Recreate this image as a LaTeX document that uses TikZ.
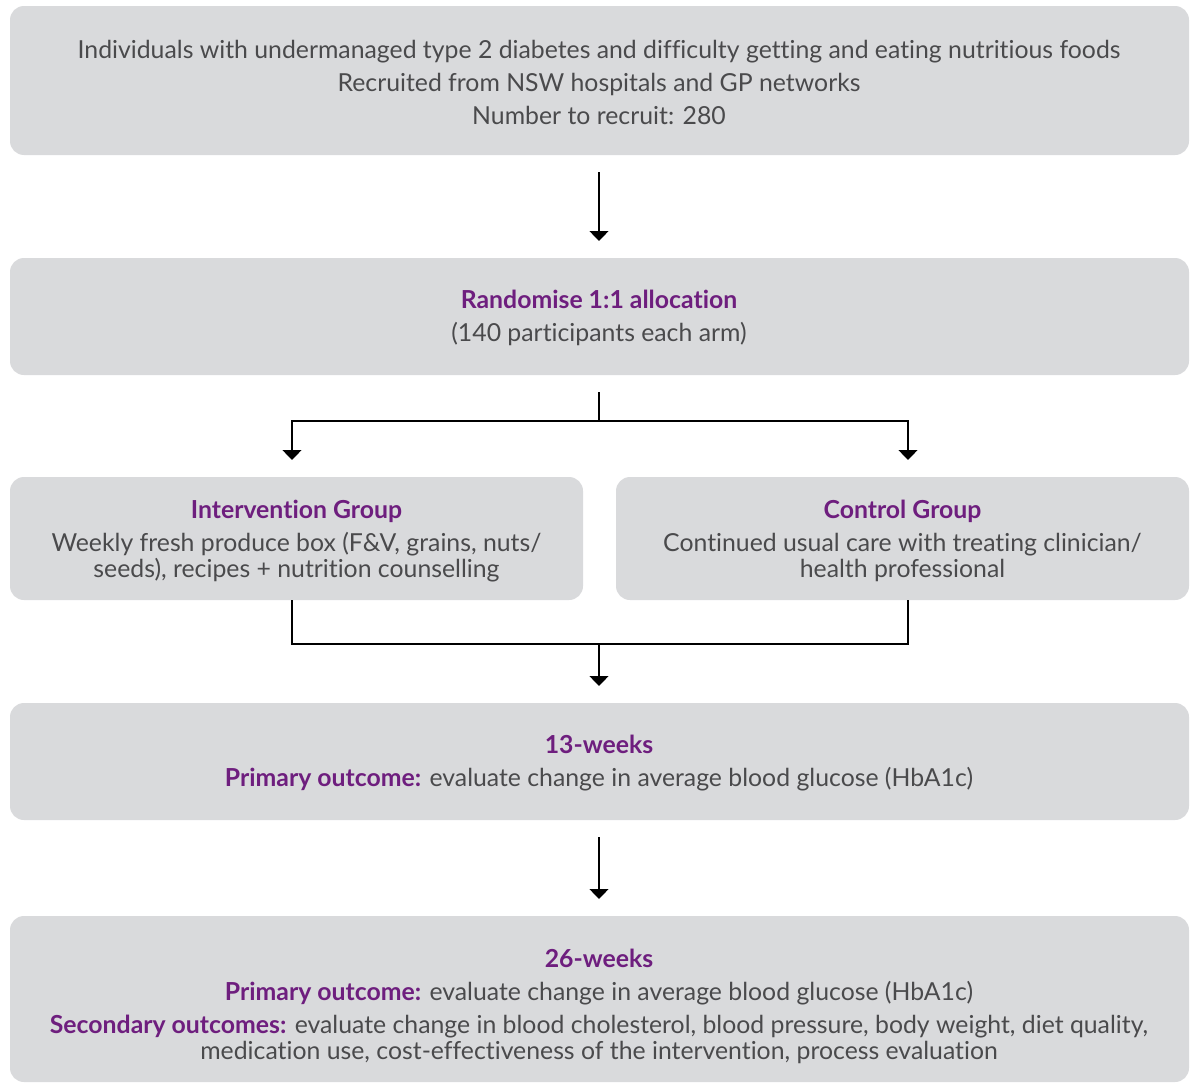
\documentclass[tikz,border=0pt]{standalone}
\usepackage{fontspec}
\setmainfont{Lato}[Ligatures=NoCommon]
\usetikzlibrary{arrows.meta}
\definecolor{boxgray}{RGB}{217,218,220}
\definecolor{purp}{RGB}{110,30,126}
\definecolor{txt}{RGB}{74,74,76}
\tikzset{
  box/.style={fill=boxgray, draw=none, rounded corners=14pt, inner sep=0pt},
  lbl/.style={text=txt, align=center, inner sep=0pt, font=\fontsize{24.8}{33}\selectfont},
  conn/.style={line width=1.3pt, black},
  arr/.style={conn, -{Triangle[width=19pt,length=10pt]}},
}
\newcommand{\hl}[1]{\textcolor{purp}{#1}}
\begin{document}
\begin{tikzpicture}[x=1pt,y=-1pt]
\useasboundingbox (0,0) rectangle (1195,1084);
% boxes
\node[box, minimum width=1179pt, minimum height=149pt] (b1) at (599.5,80.5) {};
\node[box, minimum width=1179pt, minimum height=117pt] (b2) at (599.5,316.5) {};
\node[box, minimum width=573pt, minimum height=123pt] (b3a) at (296.5,538.5) {};
\node[box, minimum width=573pt, minimum height=123pt] (b3b) at (902.5,538.5) {};
\node[box, minimum width=1179pt, minimum height=117pt] (b4) at (599.5,761.5) {};
\node[box, minimum width=1179pt, minimum height=166pt] (b5) at (599.5,999) {};
% texts
\node[lbl] (t1) at (599,82) {Individuals with undermanaged type 2 diabetes and difficulty getting and eating nutritious foods\\
Recruited from NSW hospitals and GP networks\\
Number to recruit: 280};
\node[lbl] (t2) at (599,318) {\hl{\bfseries Randomise 1:1 allocation}\\(140 participants each arm)};
\node[lbl] (t3a) at (296.5,541) {\hl{\bfseries Intervention Group}\\Weekly fresh produce box (F\&V, grains, nuts/\\[-7pt]seeds), recipes + nutrition counselling};
\node[lbl] (t3b) at (902.5,541) {\hl{\bfseries Control Group}\\Continued usual care with treating clinician/\\[-7pt]health professional};
\node[lbl] (t4) at (599,763) {\hl{\bfseries 13-weeks}\\\hl{\bfseries Primary outcome:} evaluate change in average blood glucose (HbA1c)};
\node[lbl] (t5) at (599,1006) {\hl{\bfseries 26-weeks}\\
\hl{\bfseries Primary outcome:} evaluate change in average blood glucose (HbA1c)\\
\hl{\bfseries Secondary outcomes:} evaluate change in blood cholesterol, blood pressure, body weight, diet quality,\\[-7pt]
medication use, cost-effectiveness of the intervention, process evaluation};
% connector coordinates
\coordinate (a1s) at (599,172);
\coordinate (a1e) at (599,241);
\coordinate (a2s) at (599,392);
\coordinate (a2m) at (599,421);
\coordinate (a2l) at (292,421);
\coordinate (a2r) at (908,421);
\coordinate (a2le) at (292,460);
\coordinate (a2re) at (908,460);
\coordinate (a3l) at (292,644);
\coordinate (a3r) at (908,644);
\coordinate (a3m) at (599,644);
\coordinate (a3e) at (599,686);
\coordinate (a4s) at (599,837);
\coordinate (a4e) at (599,899);
% connectors
\draw[arr] (a1s) -- (a1e);
\draw[conn] (a2s) -- (a2m);
\draw[arr] (a2m) -- (a2l) -- (a2le);
\draw[arr] (a2m) -- (a2r) -- (a2re);
\draw[conn] (b3a.south -| a2l) -- (a3l) -- (a3r) -- (b3b.south -| a3r);
\draw[arr] (a3m) -- (a3e);
\draw[arr] (a4s) -- (a4e);
\end{tikzpicture}
\end{document}
